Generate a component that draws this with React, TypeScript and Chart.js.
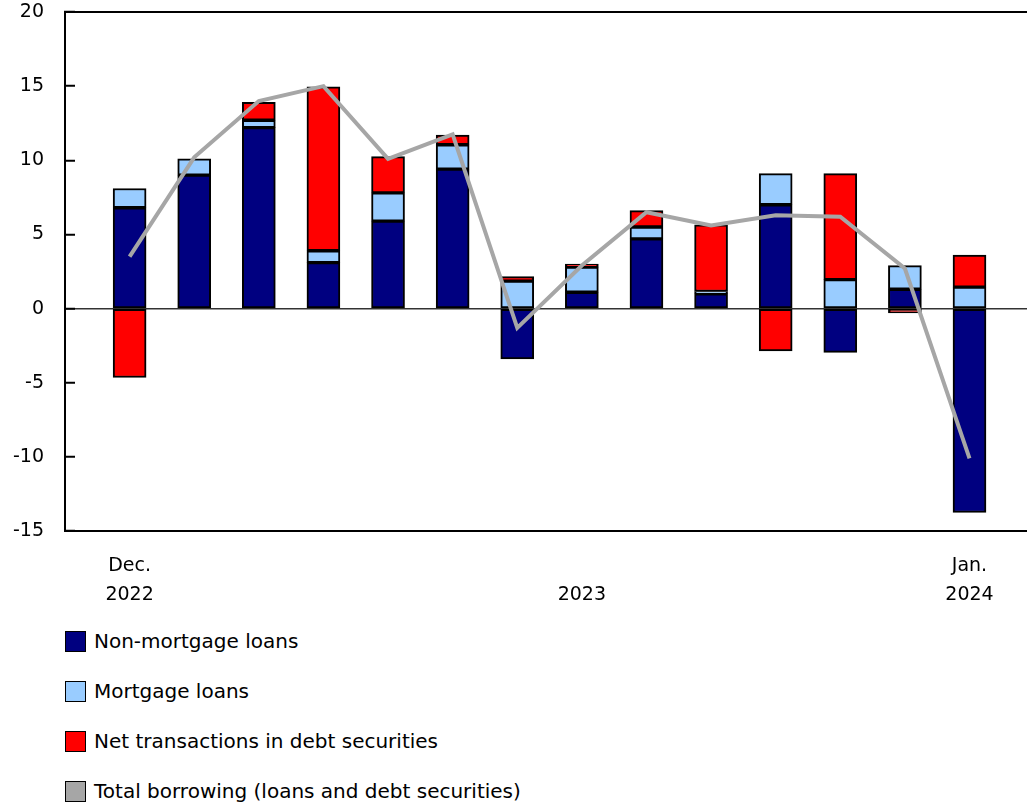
import React, { useEffect, useRef } from "react";
import { Chart, registerables } from "chart.js";

Chart.register(...registerables);

const categories = [
  "Dec. 2022", "Jan. 2023", "Feb. 2023", "Mar. 2023", "Apr. 2023", "May 2023", "Jun. 2023",
  "Jul. 2023", "Aug. 2023", "Sep. 2023", "Oct. 2023", "Nov. 2023", "Dec. 2023", "Jan. 2024",
];
const nonMortgageLoans = [6.8, 9.0, 12.2, 3.1, 5.9, 9.4, -3.4, 1.1, 4.7, 1.0, 7.0, -2.95, 1.3, -13.75];
const mortgageLoans = [1.3, 1.1, 0.5, 0.8, 1.9, 1.65, 1.85, 1.7, 0.8, 0.15, 2.1, 1.95, 1.6, 1.45];
const debtSecurities = [-4.65, 0, 1.2, 11.05, 2.45, 0.65, 0.3, 0.2, 1.1, 4.5, -2.85, 7.15, -0.3, 2.15];
const totalBorrowing = [3.5, 10.2, 14.0, 15.0, 10.1, 11.75, -1.3, 2.9, 6.5, 5.6, 6.3, 6.2, 2.7, -10.1];

const xTickIndices = [0, 7, 13];
const xTickLabels: string[][] = [["Dec.", "2022"], ["", "2023"], ["Jan.", "2024"]];
const yTickValues = [-15, -10, -5, 0, 5, 10, 15, 20];

const seriesNames = [
  "Non-mortgage loans",
  "Mortgage loans",
  "Net transactions in debt securities",
  "Total borrowing (loans and debt securities)",
];
const seriesColors = ["#000080", "#99ccff", "#ff0000", "#a6a6a6"];

const FONT = "'DejaVu Sans', Verdana, sans-serif";

function toPoints(values: number[]) {
  return values.map((v, i) => ({ x: i + 1, y: v }));
}

export default function App() {
  const canvasRef = useRef<HTMLCanvasElement | null>(null);

  useEffect(() => {
    if (!canvasRef.current) return;
    const barSeries = [nonMortgageLoans, mortgageLoans, debtSecurities];
    const chart = new Chart(canvasRef.current, {
      type: "bar",
      data: {
        datasets: [
          {
            type: "line",
            label: seriesNames[3],
            data: toPoints(totalBorrowing),
            borderColor: seriesColors[3],
            backgroundColor: seriesColors[3],
            borderWidth: 4,
            pointRadius: 0,
            tension: 0,
            order: 0,
          } as any,
          ...barSeries.map((vals, k) => ({
            type: "bar",
            label: seriesNames[k],
            data: toPoints(vals),
            backgroundColor: seriesColors[k],
            borderColor: "#000000",
            borderWidth: 2,
            borderSkipped: false,
            barThickness: 33,
            order: 1,
          })),
        ],
      },
      options: {
        animation: false,
        responsive: false,
        maintainAspectRatio: false,
        layout: { padding: { top: 12, left: 0, right: 0, bottom: 0 } },
        plugins: {
          legend: { display: false },
          tooltip: { enabled: false },
        },
        scales: {
          x: {
            type: "linear",
            position: "bottom",
            min: 0,
            max: 14.89,
            offset: false,
            stacked: true,
            grid: { display: false, drawTicks: false, offset: false },
            border: { display: true, color: "#000000", width: 2 },
            afterBuildTicks: (s: any) => {
              s.ticks = xTickIndices.map((i) => ({ value: i + 1 }));
            },
            ticks: {
              autoSkip: false,
              maxRotation: 0,
              minRotation: 0,
              padding: 21,
              color: "#000000",
              font: { family: FONT, size: 19, lineHeight: 1.5 },
              callback: (v: any) => {
                const k = xTickIndices.indexOf(Number(v) - 1);
                return k >= 0 ? xTickLabels[k] : "";
              },
            },
            afterFit: (s: any) => {
              s.height = 89;
              s.paddingLeft = 0;
              s.paddingRight = 0;
            },
          },
          x2: {
            type: "linear",
            position: "top",
            min: 0,
            max: 1,
            offset: false,
            grid: { display: false, drawTicks: false, offset: false },
            ticks: { display: false },
            border: { display: true, color: "#000000", width: 2 },
            afterFit: (s: any) => {
              s.height = 0;
            },
          },
          y: {
            stacked: true,
            min: -15,
            max: 20,
            afterBuildTicks: (s: any) => {
              s.ticks = yTickValues.map((v) => ({ value: v }));
            },
            grid: {
              color: (ctx: any) => (ctx.tick && ctx.tick.value === 0 ? "#333333" : "rgba(0,0,0,0)"),
              lineWidth: 1.5,
              tickLength: -10,
              tickColor: "#000000",
              tickWidth: 2,
            },
            border: { display: true, color: "#000000", width: 2 },
            ticks: {
              padding: 31,
              color: "#000000",
              font: { family: FONT, size: 19 },
            },
            afterFit: (s: any) => {
              s.width = 65;
              s.paddingTop = 11;
              s.paddingBottom = 11;
            },
          },
        },
      } as any,
    });
    return () => chart.destroy();
  }, []);

  return (
    <div style={{ position: "absolute", left: 0, top: 0, width: 1027, height: 805, background: "#ffffff" }}>
      <canvas ref={canvasRef} width={1027} height={620} style={{ display: "block" }} />
      <div style={{ position: "absolute", left: 65, top: 631, fontFamily: FONT, fontSize: 20, color: "#000" }}>
        {seriesNames.map((name, i) => (
          <div key={name} style={{ display: "flex", alignItems: "center", height: 21, marginBottom: 29 }}>
            <span
              style={{
                display: "inline-block",
                width: 21,
                height: 21,
                boxSizing: "border-box",
                border: "1.5px solid #000",
                background: seriesColors[i],
                marginRight: 8,
              }}
            />
            <span style={{ whiteSpace: "nowrap", lineHeight: "21px" }}>{name}</span>
          </div>
        ))}
      </div>
      <span style={{ display: "none" }}>{categories.join(",")}</span>
    </div>
  );
}
